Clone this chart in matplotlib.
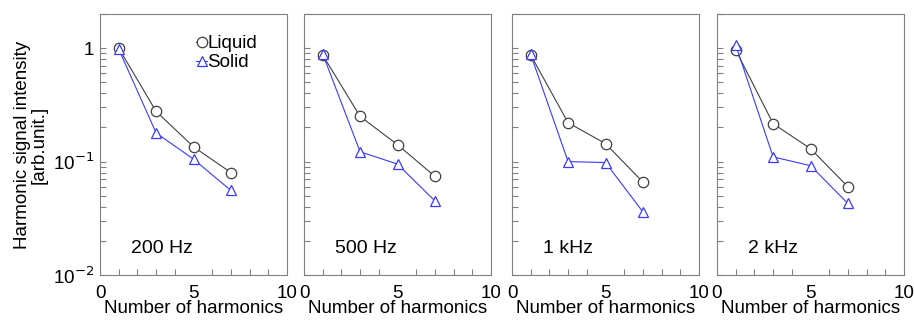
import matplotlib
matplotlib.use("Agg")
import matplotlib.pyplot as plt
from matplotlib.ticker import LogLocator, FixedLocator, MultipleLocator

plt.rcParams["font.family"] = ["Liberation Sans", "DejaVu Sans"]

harmonics = [1, 3, 5, 7]
labels = ["200 Hz", "500 Hz", "1 kHz", "2 kHz"]
liquid = [
    [1.0, 0.277, 0.135, 0.080],
    [0.87, 0.25, 0.141, 0.074],
    [0.87, 0.22, 0.144, 0.066],
    [0.965, 0.216, 0.130, 0.060],
]
solid = [
    [0.98, 0.179, 0.105, 0.0556],
    [0.89, 0.122, 0.095, 0.045],
    [0.88, 0.100, 0.098, 0.036],
    [1.07, 0.110, 0.092, 0.0427],
]

W, H = 914, 322
lefts = [100, 304, 512, 717]
FS = 13.5
fig = plt.figure(figsize=(W / 100, H / 100), dpi=100)

for i, left in enumerate(lefts):
    ax = fig.add_axes([left / W, 1 - 275 / H, 187 / W, 261 / H])
    ax.plot(harmonics, liquid[i], color="#404040", lw=0.8, marker="o",
            ms=7.5, mfc="white", mec="#404040", mew=0.9, label="Liquid")
    ax.plot(harmonics, solid[i], color="#3a3aff", lw=0.8, marker="^",
            ms=7.5, mfc="white", mec="#3a3aff", mew=0.9, label="Solid")
    ax.set_yscale("log")
    ax.set_xlim(0, 10)
    ax.set_ylim(0.01, 2.0)
    ax.xaxis.set_major_locator(FixedLocator([0, 5, 10]))
    ax.xaxis.set_minor_locator(MultipleLocator(1))
    ax.yaxis.set_major_locator(FixedLocator([0.01, 0.1, 1]))
    ax.yaxis.set_minor_locator(LogLocator(base=10, subs=range(2, 10)))
    for s in ax.spines.values():
        s.set_color("#808080")
    ax.tick_params(which="both", direction="in", color="#808080",
                   top=False, right=False, labelsize=FS, length=4, width=0.8)
    ax.tick_params(axis="x", which="major", length=0, pad=7)
    ax.tick_params(axis="y", which="major", pad=4)
    if i == 0:
        ax.set_yticklabels(["10$^{-2}$", "10$^{-1}$", "1"])
        ax.set_ylabel("Harmonic signal intensity\n[arb.unit.]", fontsize=FS,
                      labelpad=4, linespacing=1.0)
        ax.legend(loc="upper right", frameon=False, handlelength=0.6,
                  handletextpad=0.0, fontsize=FS, borderaxespad=0.3,
                  labelspacing=0.1, bbox_to_anchor=(0.91, 0.97))
    else:
        ax.set_yticklabels([])
    ax.yaxis.set_minor_formatter(plt.NullFormatter())
    ax.set_xlabel("Number of harmonics", fontsize=FS, labelpad=-1)
    ax.text(0.165, 0.10, labels[i], transform=ax.transAxes, fontsize=14,
            va="center", ha="left")

fig.savefig("out.png", dpi=100)
